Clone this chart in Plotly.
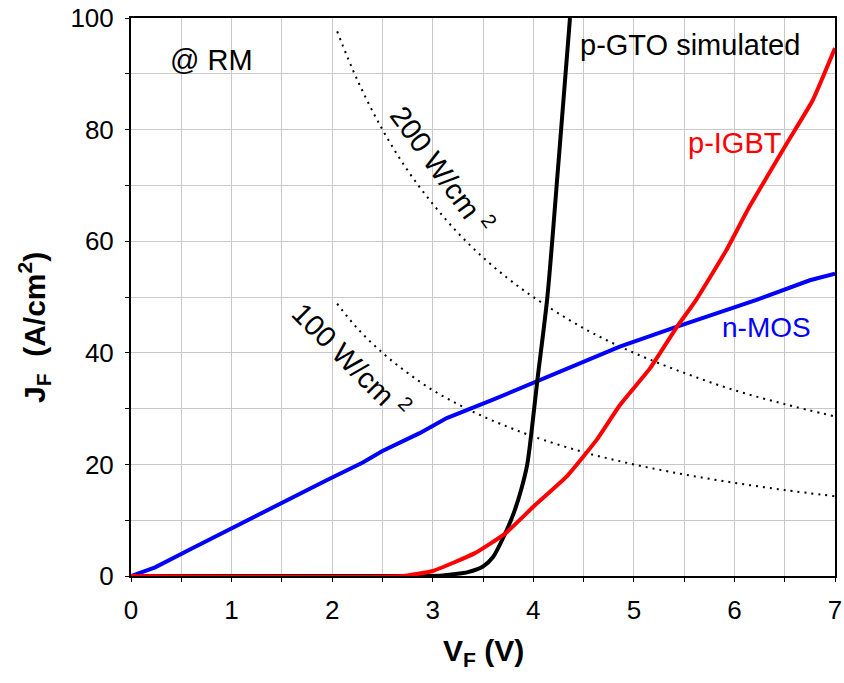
import plotly.graph_objects as go

# ---- data ----
mos_v = [0, 0.24, 0.6, 1.0, 1.5, 1.95, 2.3, 2.5, 2.87, 3.14, 3.6, 4.03, 4.45, 4.86, 5.43, 5.85, 6.22, 6.75, 7.0]
mos_j = [0, 1.55, 4.9, 8.6, 13.1, 17.2, 20.3, 22.4, 25.6, 28.3, 31.6, 34.8, 38.0, 41.1, 44.7, 47.2, 49.5, 53.0, 54.2]

igbt_v = [0, 2.7, 3.0, 3.42, 3.72, 4.0, 4.33, 4.63, 4.86, 5.16, 5.43, 5.62, 5.92, 6.15, 6.52, 6.78, 7.0]
igbt_j = [0, 0, 0.9, 4.1, 7.6, 12.4, 17.8, 24.4, 30.6, 37.2, 44.7, 49.5, 58.4, 66.2, 77.5, 85.3, 94.6]

gto_v = [0, 2.9, 3.1, 3.2, 3.35, 3.5, 3.6, 3.72, 3.81, 3.88, 3.94, 3.99, 4.04, 4.14, 4.25, 4.365]
gto_j = [0, 0, 0.1, 0.3, 0.7, 1.7, 3.4, 7.6, 11.5, 15.5, 20.0, 27.0, 35.0, 50.0, 74.0, 100.0]

pw_v = [2.05, 2.25, 2.5, 2.75, 3.0, 3.25, 3.5, 3.75, 4.0, 4.5, 5.0, 5.5, 6.0, 6.5, 7.0]
p200_j = [97.6, 88.9, 80.0, 72.7, 66.7, 61.5, 57.1, 53.3, 50.0, 44.4, 40.0, 36.4, 33.3, 30.8, 28.6]
p100_j = [48.8, 44.4, 40.0, 36.4, 33.3, 30.8, 28.6, 26.7, 25.0, 22.2, 20.0, 18.2, 16.7, 15.4, 14.3]

x_ticks = [0, 1, 2, 3, 4, 5, 6, 7]
y_ticks = [0, 20, 40, 60, 80, 100]

FONT = "Liberation Sans, Arial, sans-serif"

fig = go.Figure()
dot = "2px,5px"
fig.add_trace(go.Scatter(x=pw_v, y=p200_j, mode="lines",
                         line=dict(color="black", width=2, dash=dot, shape="spline")))
fig.add_trace(go.Scatter(x=pw_v, y=p100_j, mode="lines",
                         line=dict(color="black", width=2, dash=dot, shape="spline")))
fig.add_trace(go.Scatter(x=mos_v, y=mos_j, mode="lines",
                         line=dict(color="#0000ff", width=4)))
fig.add_trace(go.Scatter(x=gto_v, y=gto_j, mode="lines",
                         line=dict(color="black", width=4, shape="spline", smoothing=0.8)))
fig.add_trace(go.Scatter(x=igbt_v, y=igbt_j, mode="lines",
                         line=dict(color="#ff0000", width=4, shape="spline", smoothing=0.4)))

grid = "#c8c8c8"
common = dict(showgrid=True, gridcolor=grid, gridwidth=1,
              ticks="outside", ticklen=4, tickcolor="black",
              showline=True, linecolor="black", linewidth=2, mirror=True,
              zeroline=False, tickfont=dict(size=26), ticklabelstandoff=6,
              ticklabeloverflow="allow",
              layer="below traces", automargin=False)
fig.update_layout(
    width=844, height=683,
    margin=dict(l=131, r=9, t=18, b=107, autoexpand=False),
    paper_bgcolor="white", plot_bgcolor="white",
    showlegend=False,
    font=dict(family=FONT, color="black", size=26),
    xaxis=dict(range=[0, 7], tickvals=x_ticks,
               minor=dict(dtick=0.5, showgrid=True, gridcolor=grid, gridwidth=1,
                          ticks="outside", ticklen=4, tickcolor="black"),
               **common),
    yaxis=dict(range=[0, 100], tickvals=y_ticks,
               minor=dict(dtick=10, showgrid=True, gridcolor=grid, gridwidth=1,
                          ticks="outside", ticklen=4, tickcolor="black"),
               **common),
)

ann = [
    dict(x=0.37, y=92.5, text="@ RM", xanchor="left", size=29, color="black", angle=0),
    dict(x=4.445, y=95.2, text="p-GTO simulated", xanchor="left", size=29, color="black", angle=0),
    dict(x=5.52, y=77.6, text="p-IGBT", xanchor="left", size=29, color="#ff0000", angle=0),
    dict(x=5.86, y=44.6, text="n-MOS", xanchor="left", size=28, color="#0000ff", angle=0),
    dict(x=3.1, y=73.0, text="200 W/cm <sup>2</sup>", xanchor="center", size=29, color="black", angle=54),
    dict(x=2.2, y=38.8, text="100 W/cm <sup>2</sup>", xanchor="center", size=29, color="black", angle=45),
]
for a in ann:
    fig.add_annotation(x=a["x"], y=a["y"], xref="x", yref="y", text=a["text"],
                       showarrow=False, xanchor=a["xanchor"], yanchor="middle",
                       textangle=a["angle"],
                       font=dict(family=FONT, size=a["size"], color=a["color"]))

# axis titles (paper coordinates relative to the plot area 131..835 x 18..576)
fig.add_annotation(x=(483 - 131) / 704, y=-(652 - 576) / 558, xref="paper", yref="paper",
                   text="<b>V<sub>F</sub> (V)</b>",
                   showarrow=False, xanchor="center", yanchor="middle",
                   font=dict(family=FONT, size=30, color="black"))
fig.add_annotation(x=-(131 - 34) / 704, y=(576 - 328) / 558, xref="paper", yref="paper",
                   text="<b>J<sub>F</sub>  (A/cm<sup>2</sup>)</b>",
                   showarrow=False, xanchor="center", yanchor="middle", textangle=-90,
                   font=dict(family=FONT, size=30, color="black"))

fig.write_html("out.html", config={"displayModeBar": False},
               post_script="document.body.style.margin='0';")
